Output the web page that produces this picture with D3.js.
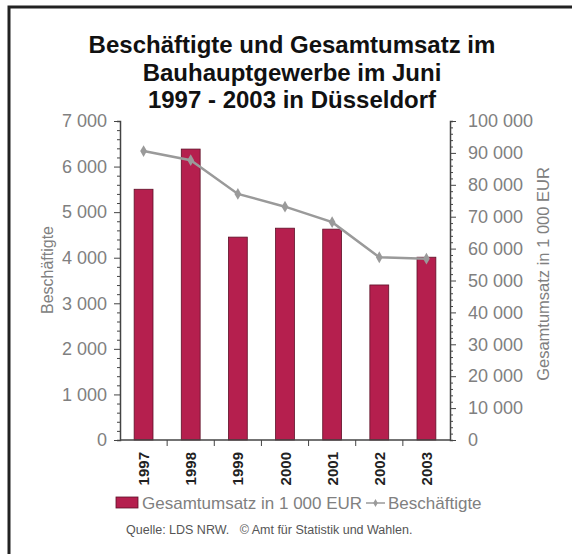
<!DOCTYPE html>
<meta charset="utf-8">
<style>
body { margin: 0; background: #fff; }
svg text { font-family: "Liberation Sans", Arial, sans-serif; }
</style>
<svg></svg>
<script src="https://d3js.org/d3.v7.min.js"></script>
<script>

// data
var years = ["1997", "1998", "1999", "2000", "2001", "2002", "2003"];
var umsatz = [78600, 91200, 63600, 66400, 66100, 48600, 57300];        // Gesamtumsatz in 1 000 EUR
var beschaeftigte = [6340, 6140, 5400, 5120, 4780, 4010, 3980];     // Beschäftigte
var leftTicks = [0, 1000, 2000, 3000, 4000, 5000, 6000, 7000];
var rightTicks = [0, 10000, 20000, 30000, 40000, 50000, 60000, 70000, 80000, 90000, 100000];
var titleLines = ["Beschäftigte und Gesamtumsatz im", "Bauhauptgewerbe im Juni", "1997 - 2003 in Düsseldorf"];

var width = 572, height = 554,
	svg = d3.select("svg").attr("width", width).attr("height", height),
	pLeft = 120, pRight = 450, pTop = 121, pBottom = 440;

var fmt = function(d) { return d3.format(",")(d).replace(/,/g, " "); };

//frame (scanned border, only top and left visible)
svg.append("path").attr("d", "M9,554V7H572").attr("fill", "none")
	.attr("stroke", "#222").attr("stroke-width", 3);

//title
svg.append("g").selectAll("text").data(titleLines)
	.enter().append("text")
	.attr("x", 292).attr("y", function(d, i) { return 53 + i * 27.5; })
	.attr("text-anchor", "middle").attr("font-size", 24).attr("font-weight", "bold")
	.attr("fill", "#111").text(function(d) { return d; });

//scales
var x = d3.scaleBand().domain(years).range([pLeft, pRight]).paddingInner(0.6).paddingOuter(0.3);
var xb = d3.scaleBand().domain(years).range([pLeft, pRight]);
var yL = d3.scaleLinear().domain([0, d3.max(leftTicks)]).range([pBottom, pTop]);
var yR = d3.scaleLinear().domain([0, d3.max(rightTicks)]).range([pBottom, pTop]);

//bars
svg.append("g").selectAll("rect").data(umsatz)
	.enter().append("rect")
	.attr("x", function(d, i) { return x(years[i]); })
	.attr("width", x.bandwidth())
	.attr("y", function(d) { return yR(d); })
	.attr("height", function(d) { return pBottom - yR(d); })
	.attr("fill", "#b51f4e").attr("stroke", "#5e1128").attr("stroke-width", 0.8);

//line
var cx = function(d, i) { return xb(years[i]) + xb.bandwidth() / 2; };
var line = d3.line().x(cx).y(function(d) { return yL(d); });
svg.append("path").datum(beschaeftigte).attr("d", line)
	.attr("fill", "none").attr("stroke", "#9a9a9a").attr("stroke-width", 2.5);
svg.append("g").selectAll("path").data(beschaeftigte)
	.enter().append("path")
	.attr("transform", function(d, i) { return "translate(" + cx(d, i) + "," + yL(d) + ")"; })
	.attr("d", d3.symbol().type(d3.symbolDiamond).size(40))
	.attr("fill", "#9a9a9a");

//axes
var axisColor = "#444", labelColor = "#808080";
var gL = svg.append("g").attr("transform", "translate(" + pLeft + ",0)");
gL.call(d3.axisLeft(yL).tickValues(d3.range(0, 7001, 200)).tickSize(3).tickFormat(""));
gL.selectAll(".tick").filter(function(d) { return leftTicks.indexOf(d) >= 0; })
	.call(function(t) {
		t.select("line").attr("x2", -6);
		t.select("text").text(function(d) { return fmt(d); }).attr("x", -13);
	});
var gR = svg.append("g").attr("transform", "translate(" + pRight + ",0)");
gR.call(d3.axisRight(yR).tickValues(d3.range(0, 100001, 2000)).tickSize(3).tickFormat(""));
gR.selectAll(".tick").filter(function(d) { return rightTicks.indexOf(d) >= 0; })
	.call(function(t) {
		t.select("line").attr("x2", 6);
		t.select("text").text(function(d) { return fmt(d); }).attr("x", 18);
	});
[gL, gR].forEach(function(g) {
	g.select(".domain").attr("stroke", axisColor).attr("stroke-width", 1.5);
	g.selectAll(".tick line").attr("stroke", axisColor);
	g.selectAll(".tick text").attr("font-size", 18).attr("fill", labelColor)
		.attr("font-family", "Roboto, sans-serif").attr("font-weight", 300);
});

var gX = svg.append("g").attr("transform", "translate(0," + pBottom + ")");
gX.append("line").attr("x1", pLeft).attr("x2", pRight).attr("stroke", axisColor).attr("stroke-width", 1.5);
gX.selectAll(".sep").data(years.slice(1))
	.enter().append("line").attr("class", "sep")
	.attr("x1", function(d) { return xb(d); }).attr("x2", function(d) { return xb(d); })
	.attr("y1", 0).attr("y2", 6).attr("stroke", axisColor);
gX.selectAll("text").data(years)
	.enter().append("text")
	.attr("transform", function(d) { return "translate(" + (xb(d) + xb.bandwidth() / 2 + 5.5) + ",12) rotate(-90)"; })
	.attr("text-anchor", "end").attr("font-size", 15).attr("font-weight", "bold")
	.attr("fill", "#222").text(function(d) { return d; });

//axis titles
svg.append("text").attr("transform", "translate(53,270) rotate(-90)")
	.attr("text-anchor", "middle").attr("font-size", 16).attr("fill", labelColor)
	.attr("font-family", "Roboto, sans-serif").attr("font-weight", 300).text("Beschäftigte");
svg.append("text").attr("transform", "translate(549,274) rotate(-90)")
	.attr("text-anchor", "middle").attr("font-size", 16.5).attr("fill", labelColor)
	.attr("font-family", "Roboto, sans-serif").attr("font-weight", 300).text("Gesamtumsatz in 1 000 EUR");

//legend
var lg = svg.append("g");
lg.append("rect").attr("x", 116).attr("y", 497).attr("width", 22).attr("height", 11)
	.attr("fill", "#b51f4e").attr("stroke", "#5e1128").attr("stroke-width", 0.8);
lg.append("text").attr("x", 142).attr("y", 509).attr("font-size", 17).attr("fill", labelColor)
	.attr("font-family", "Roboto, sans-serif").attr("font-weight", 300).text("Gesamtumsatz in 1 000 EUR");
lg.append("line").attr("x1", 366).attr("x2", 385).attr("y1", 503).attr("y2", 503)
	.attr("stroke", "#9a9a9a").attr("stroke-width", 1.5);
lg.append("path").attr("transform", "translate(375.5,503)")
	.attr("d", d3.symbol().type(d3.symbolDiamond).size(18)).attr("fill", "#9a9a9a");
lg.append("text").attr("x", 388).attr("y", 509).attr("font-size", 17).attr("fill", labelColor)
	.attr("font-family", "Roboto, sans-serif").attr("font-weight", 300).text("Beschäftigte");

//source
svg.append("text").attr("x", 126).attr("y", 534).attr("font-size", 12.5).attr("fill", "#555")
	.attr("xml:space", "preserve").text("Quelle: LDS NRW.   © Amt für Statistik und Wahlen.");

</script>
